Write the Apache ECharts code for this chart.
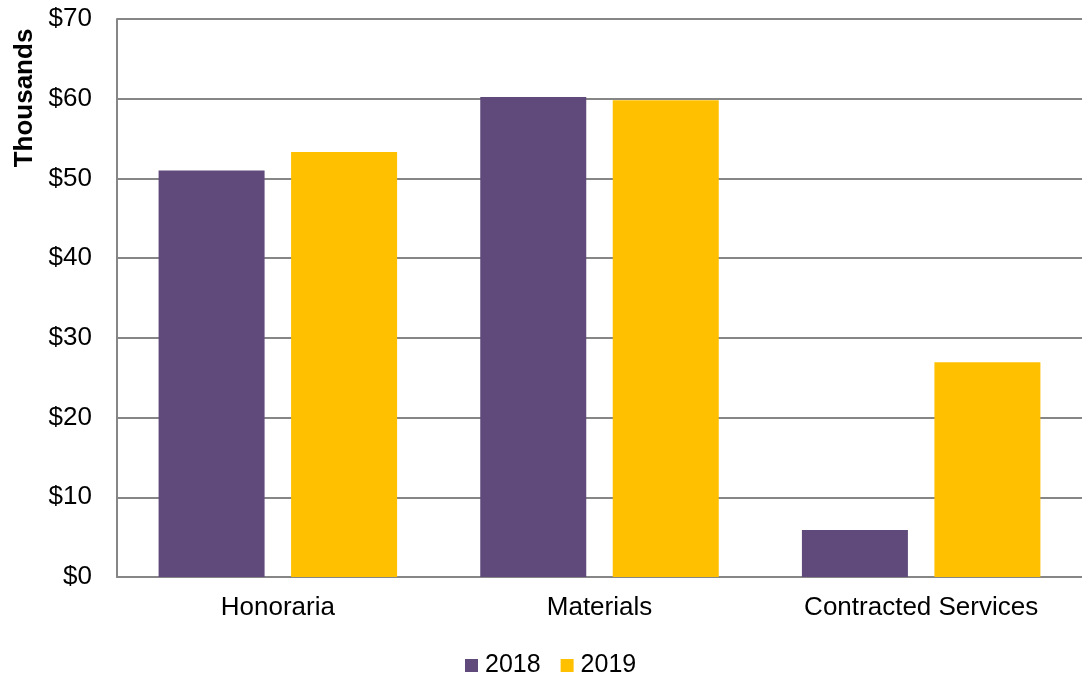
<!DOCTYPE html>
<html>
<head>
<meta charset="utf-8">
<script src="https://cdn.jsdelivr.net/npm/echarts@6/dist/echarts.min.js"></script>
<style>
  html, body { margin: 0; padding: 0; background: #fff; }
  #chart { width: 1082px; height: 678px; }
</style>
</head>
<body>
<div id="chart"></div>
<script>
const categories = ["Honoraria", "Materials", "Contracted Services"];
const values2018 = [51.0, 60.2, 5.9];
const values2019 = [53.3, 59.8, 26.95];
const yTicks = [0, 10, 20, 30, 40, 50, 60, 70];

const chart = echarts.init(document.getElementById("chart"));

const font = "Liberation Sans, Arial, sans-serif";

const options = {
  animation: false,
  textStyle: { fontFamily: font },
  grid: { left: 117, right: 0, top: 19, bottom: 101 },
  graphic: [
    {
      // axis title, turned on its side like the original
      type: "text",
      x: 25,
      y: 98,
      rotation: Math.PI / 2,
      style: {
        text: "Thousands",
        font: "bold 26px " + font,
        fill: "#000",
        textAlign: "center",
        textVerticalAlign: "middle",
      },
    },
  ],
  legend: {
    top: 648,
    left: 460,
    itemWidth: 13,
    itemHeight: 13,
    itemGap: 20,
    icon: "rect",
    textStyle: { fontSize: 25, color: "#000", padding: [0, 0, 0, 2] },
    data: ["2018", "2019"],
  },
  xAxis: {
    type: "category",
    data: categories,
    axisLine: { lineStyle: { color: "#868686", width: 2 } },
    axisTick: { show: false },
    axisLabel: { fontSize: 26, color: "#000", margin: 18 },
  },
  yAxis: {
    type: "value",
    min: yTicks[0],
    max: yTicks[yTicks.length - 1],
    interval: 10,
    axisLine: { show: true, lineStyle: { color: "#868686", width: 2 } },
    axisTick: { show: false },
    splitLine: { lineStyle: { color: "#868686", width: 2 } },
    axisLabel: {
      fontSize: 26,
      color: "#000",
      margin: 25,
      formatter: (v) => "$" + v,
    },
  },
  series: [
    {
      name: "2018",
      type: "bar",
      data: values2018,
      itemStyle: { color: "#604A7B" },
      barWidth: 106,
      barGap: "25%",
    },
    {
      name: "2019",
      type: "bar",
      data: values2019,
      itemStyle: { color: "#FFC000" },
      barWidth: 106,
      barGap: "25%",
    },
  ],
};

chart.setOption(options);
</script>
</body>
</html>
